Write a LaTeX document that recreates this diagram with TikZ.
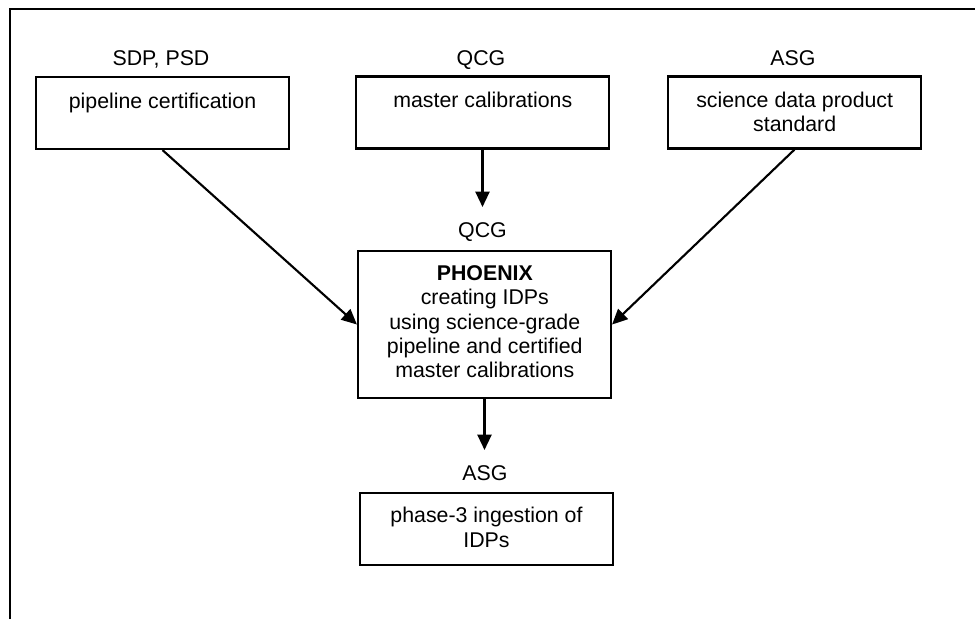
\documentclass[tikz,border=0pt]{standalone}
\usepackage{fontspec}
\setmainfont{Liberation Sans}
\usetikzlibrary{arrows.meta}
\begin{document}
\begin{tikzpicture}[x=0.75pt,y=-0.75pt,
  box/.style={draw,line width=1.6pt,minimum width=253*0.75pt,minimum height=#1*0.75pt,inner sep=0pt},
  box/.default=72,
  txt/.style={font=\fontsize{16pt}{18.2pt}\selectfont,align=center,inner sep=0pt,anchor=base},
  arr/.style={line width=1.6pt,-{Triangle[length=11.5pt,width=10.5pt]}}
]
\useasboundingbox (0,0) rectangle (975,619);
\draw[line width=1.6pt] (10,619) -- (10,9) -- (975,9);

\node[box] (b1) at (162.5,113) {};
\node[box] (b2) at (482.5,112.5) {};
\node[box] (b3) at (794.5,112.5) {};
\node[box=147] (b4) at (484.5,324.5) {};
\node[box] (b5) at (486.5,529) {};

\node[txt] (l1) at (161,65) {SDP, PSD};
\node[txt] (l2) at (481,65) {QCG};
\node[txt] (l3) at (793,65) {ASG};
\node[txt] (l4) at (482.5,237) {QCG};
\node[txt] (l5) at (485,480) {ASG};

% base anchor of a multi-line node is the last line's baseline
\node[txt] (t1) at (162.5,108) {pipeline certification};
\node[txt] (t2) at (482.8,107) {master calibrations};
\node[txt] (t3) at (794.7,131.5) {science data product\\standard};
\node[txt] (t4) at (484.8,377.7) {\textbf{PHOENIX}\\creating IDPs\\using science-grade\\pipeline and certified\\master calibrations};
\node[txt] (t5) at (486.5,547) {phase-3 ingestion of\\IDPs};

\coordinate (e2) at (482.5,207);
\coordinate (e4) at (484.5,450);

\draw[arr] (b1.south) -- (b4.west);
\draw[arr] (b2.south) -- (e2);
\draw[arr] (b3.south) -- (b4.east);
\draw[arr] (b4.south) -- (e4);
\end{tikzpicture}
\end{document}
